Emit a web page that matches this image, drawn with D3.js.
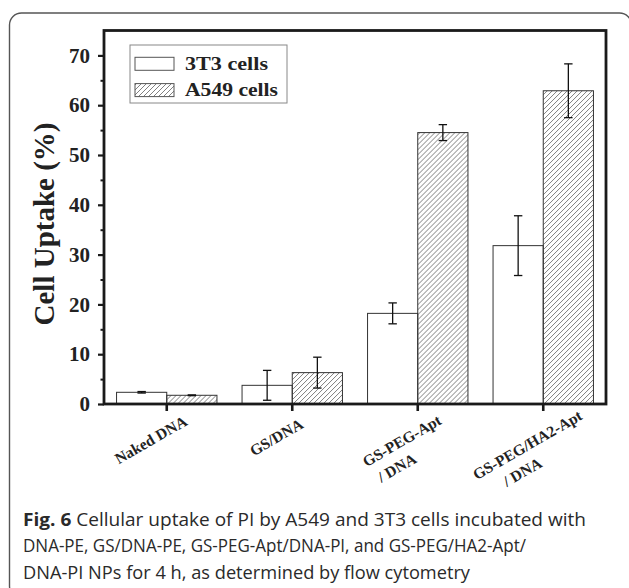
<!DOCTYPE html>
<html><head><meta charset="utf-8">
<script src="https://cdn.jsdelivr.net/npm/d3@7"></script>
<style>body{margin:0;background:#fff;} svg{display:block}</style>
</head><body>
<svg id="c" width="629" height="588"></svg>
<script>
const categories = ["Naked DNA", "GS/DNA", "GS-PEG-Apt\n/ DNA", "GS-PEG/HA2-Apt\n/ DNA"];
const series = ["3T3 cells", "A549 cells"];
const values3T3 = [2.35, 3.75, 18.2, 31.8];
const errors3T3 = [0.15, 3.0, 2.1, 6.0];
const valuesA549 = [1.75, 6.3, 54.5, 62.9];
const errorsA549 = [0.08, 3.1, 1.6, 5.4];
const yMajorTicks = [0, 10, 20, 30, 40, 50, 60, 70];
const yMinorTicks = [5, 15, 25, 35, 45, 55, 65];
const yLabel = "Cell Uptake (%)";
const captionBold = "Fig. 6";
const captionLines = [
  " Cellular uptake of PI by A549 and 3T3 cells incubated with",
  "DNA-PE, GS/DNA-PE, GS-PEG-Apt/DNA-PI, and GS-PEG/HA2-Apt/",
  "DNA-PI NPs for 4 h, as determined by flow cytometry"
];

(function () {
const svg = d3.select("#c");
const serif = "'Liberation Serif','Times New Roman',serif";
const pL = 104, pR = 606, pT = 30.5, pB = 404;

svg.append("rect").attr("x", 9.5).attr("y", 13).attr("width", 622).attr("height", 585)
  .attr("rx", 12).attr("fill", "none").attr("stroke", "#555").attr("stroke-width", 1.4);

const defs = svg.append("defs");
const pat = defs.append("pattern").attr("id", "hatch").attr("patternUnits", "userSpaceOnUse")
  .attr("width", 5).attr("height", 5);
pat.append("path").attr("d", "M-1,1 L1,-1 M0,5 L5,0 M4,6 L6,4")
  .attr("stroke", "#808080").attr("stroke-width", 1);

const x = d3.scaleBand().domain(categories).range([pL, pR]).paddingInner(0.2).paddingOuter(0.1);
const xs = d3.scaleBand().domain(series).range([0, x.bandwidth()]);
const y = d3.scaleLinear().domain([0, 75]).range([pB, pT]);

const rows = categories.map((c, i) => ({
  cat: c,
  vals: [
    {s: series[0], v: values3T3[i], e: errors3T3[i]},
    {s: series[1], v: valuesA549[i], e: errorsA549[i]}
  ]
}));

const g = svg.append("g");
const grp = g.selectAll("g.grp").data(rows).join("g").attr("class", "grp")
  .attr("transform", d => `translate(${x(d.cat)},0)`);
grp.selectAll("rect").data(d => d.vals).join("rect")
  .attr("x", d => xs(d.s)).attr("width", xs.bandwidth())
  .attr("y", d => y(d.v)).attr("height", d => y(0) - y(d.v))
  .attr("fill", d => d.s === series[0] ? "#fff" : "url(#hatch)")
  .attr("stroke", "#333").attr("stroke-width", 1);

const eb = grp.selectAll("g.eb").data(d => d.vals).join("g").attr("class", "eb")
  .attr("transform", d => `translate(${xs(d.s) + xs.bandwidth() / 2},0)`)
  .attr("stroke", "#111").attr("stroke-width", 1.3);
eb.append("line").attr("y1", d => y(d.v + d.e)).attr("y2", d => y(d.v - d.e));
eb.append("line").attr("x1", -4.2).attr("x2", 4.2).attr("y1", d => y(d.v + d.e)).attr("y2", d => y(d.v + d.e));
eb.append("line").attr("x1", -4.2).attr("x2", 4.2).attr("y1", d => y(d.v - d.e)).attr("y2", d => y(d.v - d.e));

const yAx = svg.append("g").attr("transform", `translate(${pL},0)`)
  .call(d3.axisLeft(y).tickValues(yMajorTicks).tickSize(6).tickPadding(8).tickFormat(d3.format("d")));
yAx.select(".domain").remove();
yAx.selectAll(".tick line").attr("stroke", "#1a1a1a").attr("stroke-width", 2.2);
yAx.selectAll(".tick text").attr("font-family", serif).attr("font-weight", "bold")
  .attr("font-size", 21).attr("fill", "#222");
const yMin = svg.append("g").attr("transform", `translate(${pL},0)`)
  .call(d3.axisLeft(y).tickValues(yMinorTicks).tickSize(3.5).tickFormat(""));
yMin.select(".domain").remove();
yMin.selectAll(".tick line").attr("stroke", "#1a1a1a").attr("stroke-width", 2);

const xAx = svg.append("g").attr("transform", `translate(0,${pB})`)
  .call(d3.axisBottom(x).tickSize(7).tickFormat(""));
xAx.select(".domain").remove();
xAx.selectAll(".tick line").attr("stroke", "#1a1a1a").attr("stroke-width", 2.6);

svg.append("rect").attr("x", pL).attr("y", pT).attr("width", pR - pL).attr("height", pB - pT)
  .attr("fill", "none").attr("stroke", "#1a1a1a").attr("stroke-width", 2.8);

categories.forEach(c => {
  const cx = x(c) + x.bandwidth() / 2;
  const lines = c.split("\n");
  const t0 = svg.append("text").text(lines[0]).attr("font-family", serif).attr("font-weight", "bold")
    .attr("font-size", 15.5).attr("fill", "#222").attr("text-anchor", "middle")
    .attr("dominant-baseline", "central");
  const L = t0.node().getComputedTextLength();
  const px = cx - 16, py = 430 + 0.12 * L;
  t0.attr("transform", `translate(${px},${py}) rotate(-30)`);
  if (lines[1]) {
    svg.append("text").text(lines[1]).attr("font-family", serif).attr("font-weight", "bold")
      .attr("font-size", 15.5).attr("fill", "#222").attr("text-anchor", "middle")
      .attr("dominant-baseline", "central")
      .attr("transform", `translate(${px - 5},${py + 27}) rotate(-30)`);
  }
});

svg.append("text").text(yLabel).attr("font-family", serif).attr("font-weight", "bold")
  .attr("font-size", 29).attr("fill", "#222").attr("text-anchor", "middle")
  .attr("transform", `translate(54,224) rotate(-90)`);

const lg = svg.append("g");
lg.append("rect").attr("x", 130).attr("y", 45).attr("width", 157).attr("height", 58)
  .attr("fill", "#fff").attr("stroke", "#888").attr("stroke-width", 1);
const legW = [83, 93];
series.forEach((s, i) => {
  const yy = 57.3 + i * 26.3;
  lg.append("rect").attr("x", 135).attr("y", yy).attr("width", 39).attr("height", 13)
    .attr("fill", i === 0 ? "#fff" : "url(#hatch)").attr("stroke", "#555").attr("stroke-width", 1);
  lg.append("text").text(s).attr("x", 185).attr("y", yy + 12.3)
    .attr("font-family", serif).attr("font-weight", "bold").attr("font-size", 19.5).attr("fill", "#222")
    .attr("textLength", legW[i]).attr("lengthAdjust", "spacingAndGlyphs");
});

const capFont = "'Open Sans','Noto Sans',sans-serif";
const capW = [563, 503, 447];
const capY = [525.7, 552.4, 579];
captionLines.forEach((ln, i) => {
  const t = svg.append("text").attr("x", 23).attr("y", capY[i]).attr("font-family", capFont)
    .attr("font-size", 18).attr("fill", "#2a2a2a")
    .attr("textLength", capW[i]).attr("lengthAdjust", "spacingAndGlyphs");
  if (i === 0) t.append("tspan").attr("font-weight", "bold").text(captionBold);
  t.append("tspan").text(ln);
});
})();
</script>
</body></html>
